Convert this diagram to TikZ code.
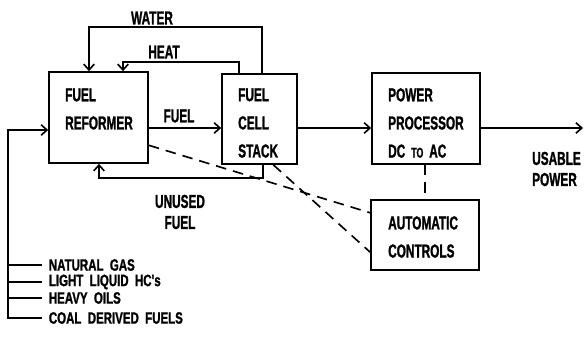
\documentclass[tikz,border=0pt]{standalone}
\usepackage{fontspec}
\newfontfamily\plantfont[FakeStretch=0.63,FakeBold=1.2,WordSpace=1.8]{Liberation Sans}
\newfontfamily\sourcefont[FakeStretch=0.7,FakeBold=1.2,WordSpace=2]{Liberation Sans}
\usetikzlibrary{arrows.meta,calc}
\tikzset{
    box/.style={draw, line width=1.4pt},
    boxtext/.style={anchor=west, inner sep=0pt, align=left,
                    font=\plantfont\bfseries\fontsize{16}{24}\selectfont},
    note/.style={inner sep=0pt, align=left,
                 font=\plantfont\bfseries\fontsize{16}{18}\selectfont},
    source/.style={anchor=west, inner xsep=0.2cm, inner ysep=0pt,
                   font=\sourcefont\bfseries\fontsize{14}{16}\selectfont},
    flow/.style={-{Straight Barb[length=5pt,width=9pt]}, line width=1.4pt},
    feed/.style={line width=1.4pt},
    control/.style={line width=1.4pt, dash pattern=on 9pt off 6pt},
}

\begin{document}
\begin{tikzpicture}[x=0.03cm, y=-0.03cm]
    \useasboundingbox (0,0) rectangle (584,337);

    \node[box, minimum width=2.97cm, minimum height=2.73cm] (reformer) at (98.5,117.5) {};
    \node[box, minimum width=2.25cm, minimum height=2.7cm] (stack) at (259.5,119) {};
    \node[box, minimum width=3.24cm, minimum height=2.73cm] (processor) at (426,118.5) {};
    \node[box, minimum width=3.24cm, minimum height=2.1cm] (controls) at (425,235) {};

    \node[boxtext] (reformertext) at (65,109) {FUEL\\REFORMER};
    \node[boxtext] (stacktext) at (238,123) {FUEL\\CELL\\STACK};
    \node[boxtext] (processortext) at (388,123) {POWER\\PROCESSOR\\DC {\fontsize{12}{12}\selectfont TO} AC};
    \node[boxtext] (controlstext) at (388,237) {AUTOMATIC\\CONTROLS};

    \node[note] (waterlabel) at (152,18) {WATER};
    \node[note] (heatlabel) at (164,52) {HEAT};
    \node[note] (fuellabel) at (179,116) {FUEL};
    \node[note, align=center] (unusedlabel) at (180,212) {UNUSED\\FUEL};
    \node[note, anchor=west] (usablelabel) at (532,169) {USABLE\\POWER};

    \coordinate (water1) at (262,27);
    \coordinate (water2) at (89,27);
    \coordinate (heat1) at (239,62);
    \coordinate (heat2) at (123,62);
    \coordinate (unused1) at (263,178);
    \coordinate (unused2) at (99,178);
    \coordinate (fuelline) at (0,128);
    \coordinate (feed) at (8,130);
    \coordinate (usable) at (583,128);

    \draw[flow] (stack.north -| water1) -- (water1) -- (water2) -- (reformer.north -| water2);
    \draw[flow] (stack.north -| heat1) -- (heat1) -- (heat2) -- (reformer.north -| heat2);
    \draw[flow] (stack.south -| unused1) -- (unused1) -- (unused2) -- (reformer.south -| unused2);
    \draw[flow] (reformer.east |- fuelline) -- (stack.west |- fuelline);
    \draw[flow] (stack.east |- fuelline) -- (processor.west |- fuelline);
    \draw[flow] (processor.east |- fuelline) -- (usable);

    \foreach \src/\y/\txt in {gas/265/NATURAL GAS, light/282/LIGHT LIQUID HC's,
                              heavy/298/HEAVY OILS, coal/318/COAL DERIVED FUELS} {
        \node[source] (\src) at (42,\y) {\txt};
    }
    \foreach \src in {gas, light, heavy} {
        \draw[feed] (\src.west) -- (\src.west -| feed);
    }
    \draw[flow] (coal.west) -| (feed) -- (reformer.west |- feed);

    \draw[control] ($(reformer.south east)!0.2!(reformer.north east)$) -- ($(controls.north west)!0.19!(controls.south west)$);
    \draw[control] ($(stack.south west)!0.68!(stack.south east)$) -- ($(controls.north west)!0.74!(controls.south west)$);
    \draw[control] (controls.north |- processor.south) -- (controls.north);

\end{tikzpicture}
\end{document}
